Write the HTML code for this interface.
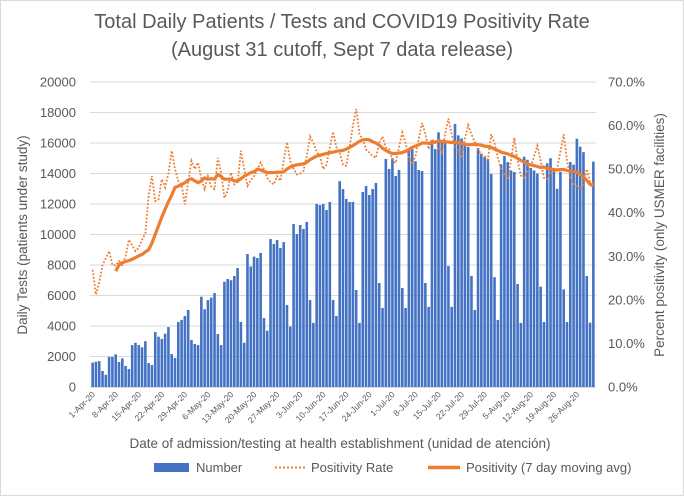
<!DOCTYPE html>
<html><head><meta charset="utf-8">
<style>
html,body{margin:0;padding:0;background:#fff;}
svg{display:block;font-family:"Liberation Sans",Arial,sans-serif;}
</style></head>
<body>
<svg id="chart" width="684" height="496" viewBox="0 0 684 496" xmlns="http://www.w3.org/2000/svg">
<rect x="0.5" y="0.5" width="683" height="495" fill="#fff" stroke="#d9d9d9"/>
<text x="342" y="28" text-anchor="middle" font-size="20" fill="#595959">Total Daily Patients / Tests and COVID19 Positivity Rate</text>
<text x="342" y="56" text-anchor="middle" font-size="20" fill="#595959">(August 31 cutoff, Sept 7 data release)</text>
<g id="grid"></g>
<g id="bars"></g>
<g id="lines"></g>
<g id="yl"></g>
<g id="yr"></g>
<g id="xl"></g>
<text transform="translate(27,235) rotate(-90)" text-anchor="middle" font-size="13.5" fill="#595959">Daily Tests (patients under study)</text>
<text transform="translate(664,235) rotate(-90)" text-anchor="middle" font-size="13.5" fill="#595959">Percent positivity (only USMER facilities)</text>
<text x="340" y="448" text-anchor="middle" font-size="13.5" fill="#595959">Date of admission/testing at health establishment (unidad de atención)</text>
<g>
<g>
<rect x="154" y="463" width="35" height="9" fill="#4472c4"/>
<text x="196" y="472" font-size="13" fill="#595959">Number</text></g>
<g>
<line x1="275" y1="467.5" x2="305" y2="467.5" stroke="#ed7d31" stroke-width="2" stroke-dasharray="2,2"/>
<text x="311" y="472" font-size="13" fill="#595959">Positivity Rate</text></g>
<g>
<line x1="428" y1="467.5" x2="460" y2="467.5" stroke="#ed7d31" stroke-width="3.5"/>
<text x="466" y="472" font-size="13" fill="#595959">Positivity (7 day moving avg)</text></g>
</g>
</svg>
<script>
const testsK = [1.6,1.66,1.7,1.05,0.8,1.97,1.97,2.14,1.64,1.88,1.38,1.18,2.75,2.9,2.75,2.6,3.0,1.57,1.44,3.6,3.3,3.15,3.5,3.93,2.16,1.9,4.26,4.4,4.65,5.05,3.08,2.82,2.75,5.92,5.1,5.7,5.86,6.16,3.47,2.75,6.9,7.08,7.0,7.28,7.8,4.26,2.9,8.72,7.9,8.55,
8.46,8.79,4.52,3.69,9.7,9.38,9.64,9.11,9.5,5.38,3.96,10.69,10.03,10.62,10.36,10.82,5.7,4.2,12.0,11.93,12.0,11.6,12.13,5.7,4.66,13.5,12.98,12.33,12.13,12.13,6.36,4.2,12.79,13.18,12.59,12.98,13.38,6.82,5.18,14.95,14.3,15.0,13.84,14.23,6.49,5.18,15.6,15.6,14.8,14.23,14.16,6.82,5.25,16.2,15.6,16.7,16.07,16.07,7.93,5.25,17.25,16.5,16.3,15.8,15.74,7.28,5.05,15.67,15.3,15.08,14.95,13.97,7.2,4.4,14.6,15.15,14.75,14.2,14.1,6.75,4.2,15.1,14.9,14.36,14.2,14.0,6.58,4.26,14.67,15.0,14.27,13.0,14.1,6.4,4.26,14.75,14.58,16.28,15.76,15.4,7.28,4.22,14.78];
const positivity = [26.9,21.2,24,28,29.5,31.2,28,27.9,28.9,28,30,33.8,32.5,31.2,32,33.8,35.3,44,48.4,42.7,43,47.7,45.8,49,54.2,50,47.3,46.5,41.9,47,51.9,50,51.5,47.7,45.4,48.4,46,45.4,52.6,49.2,43.4,45,49.2,46.5,47,54.2,50,46.2,
47.5,48.4,50,51.5,50,48,47,46.5,48.4,47.3,52,56.2,51.8,50,48.8,49,49.6,53,57.5,56,54,53,50,51,55,58.6,55,53.8,51,50.8,55,60,63.8,58,56.9,54.5,53.8,53,52.6,56,57.5,55,54.6,52,51.4,55,58.4,56,52.6,51.1,53,57,60.6,58,54.6,56.9,56,55,53.8,58,61.6,58,55.4,54,53,57,60.1,58,56.2,54.5,53.4,53,52.2,58,56,52.6,50,49,47.7,52,57.2,52,48.5,48,49.6,50.5,53,55.4,52,48,47.7,49,49.5,50,54,58,52,48,46.5,46,45.3,46.5,50,47,46.8];
const movingAvg = [null,null,null,null,null,null,null,26.6,28,28.5,28.8,29,29.3,29.7,30.1,30.4,31,31.5,33,35,37,39,40.8,42.5,44,45.8,46.1,46.5,46.9,47.5,47.8,47.3,46.9,47.3,48,47.7,47.8,47.7,48.8,48.3,47.7,47.7,47.7,47.3,47.3,47.8,48.4,48.8,49.2,49.4,
50,49.8,49.5,49.2,49.2,49.2,49.3,49.3,49.4,50,50.5,50.8,51,51.1,51.2,51.6,52.2,52.6,53,53.2,53.4,53.6,53.8,53.9,54.1,54.2,54.3,54.6,55,55.4,55.9,56.4,56.7,56.8,56.7,56.3,56,55.5,54.8,54.3,53.9,53.6,53.6,53.7,53.8,54.1,54.5,55,55.3,55.6,56,56,55.9,56,56.2,56.5,56.4,56.3,56.2,56.1,56.2,56,55.9,55.7,55.6,55.6,55.7,55.6,55.5,55.3,55.2,55,54.6,54.3,53.9,53.7,53.5,53.2,52.9,52.5,52,51.6,51.2,51,50.8,50.6,50.4,50.5,50.2,50,49.9,49.8,49.9,49.9,49.7,49.6,49.5,49.3,48.8,48.3,47.4,46.5,46.2];
const leftTicks = [0,2000,4000,6000,8000,10000,12000,14000,16000,18000,20000];
const rightTicks = ["0.0%","10.0%","20.0%","30.0%","40.0%","50.0%","60.0%","70.0%"];
const xTickLabels = ["1-Apr-20","8-Apr-20","15-Apr-20","22-Apr-20","29-Apr-20","6-May-20","13-May-20","20-May-20","27-May-20","3-Jun-20","10-Jun-20","17-Jun-20","24-Jun-20","1-Jul-20","8-Jul-20","15-Jul-20","22-Jul-20","29-Jul-20","5-Aug-20","12-Aug-20","19-Aug-20","26-Aug-20"];

const NS="http://www.w3.org/2000/svg";
const X0=91, X1=595, Y0=387, YTOP=82;
const n=testsK.length, band=(X1-X0)/n;
const xC=i=>X0+band*(i+0.5);
const yL=v=>Y0-(v/20000)*(Y0-YTOP);
const yR=p=>Y0-(p/70)*(Y0-YTOP);
function mk(tag,attrs,parent){const e=document.createElementNS(NS,tag);for(const k in attrs)e.setAttribute(k,attrs[k]);parent.appendChild(e);return e;}
const grid=document.getElementById('grid'),bars=document.getElementById('bars'),lines=document.getElementById('lines');
const yl=document.getElementById('yl'),yr=document.getElementById('yr'),xl=document.getElementById('xl');
leftTicks.forEach(v=>{
  const g=mk('line',{x1:X0-1,x2:X1+1,y1:yL(v),y2:yL(v),stroke:'#d9d9d9','stroke-width':1},grid);
  
  
  const t=mk('text',{x:76,y:yL(v)+4.5,'text-anchor':'end','font-size':13,fill:'#595959'},yl);
  
  
  t.textContent=v;
});
rightTicks.forEach((s,i)=>{
  const t=mk('text',{x:608,y:yR(i*10)+4.5,'font-size':13,fill:'#595959'},yr);
  
  
  t.textContent=s;
});
testsK.forEach((v,i)=>{
  const h=Y0-yL(v*1000);
  const r=mk('rect',{x:xC(i)-1.3,y:yL(v*1000),width:2.6,height:h,fill:'#4472c4'},bars);
  
  
});
mk('line',{x1:X0,x2:X1,y1:Y0+0.5,y2:Y0+0.5,stroke:'#d9d9d9'},xl);
xTickLabels.forEach((s,k)=>{
  const x=xC(k*7);
  const t=mk('text',{x:x+3,y:Y0+8,'text-anchor':'end','font-size':8.5,fill:'#595959',transform:`rotate(-45 ${x+3} ${Y0+8})`},xl);
  
  
  t.textContent=s;
});
let d='';positivity.forEach((p,i)=>{d+=(i?'L':'M')+xC(i).toFixed(1)+' '+yR(p).toFixed(1);});
const pl=mk('path',{d:d,fill:'none',stroke:'#ed7d31','stroke-width':1.8,'stroke-dasharray':'1.8,1.8'},lines);


let d2='',st=true;movingAvg.forEach((p,i)=>{if(p==null)return;d2+=(st?'M':'L')+xC(i).toFixed(1)+' '+yR(p).toFixed(1);st=false;});
const ml=mk('path',{d:d2,fill:'none',stroke:'#ed7d31','stroke-width':3.2,'stroke-linejoin':'round'},lines);


</script>
</body></html>
